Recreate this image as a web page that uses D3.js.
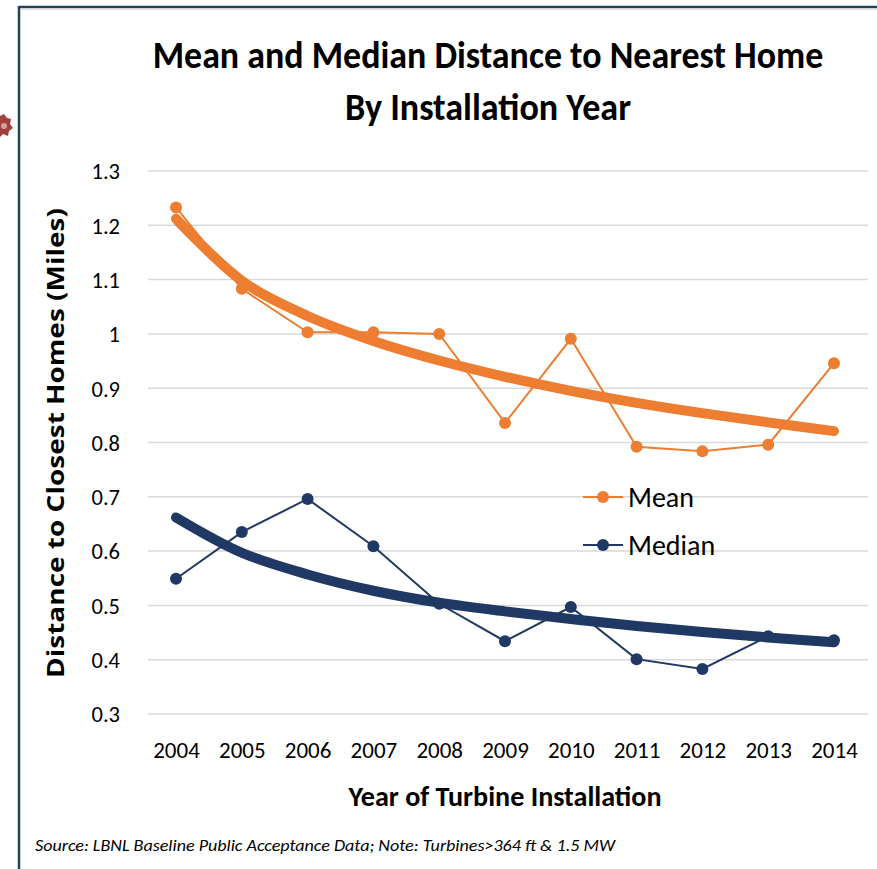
<!DOCTYPE html>
<html>
<head>
<meta charset="utf-8">
<script src="https://cdn.jsdelivr.net/npm/d3@7"></script>
<style>
  body { margin: 0; background: #fff; }
  svg { display: block; }
</style>
</head>
<body>
<svg id="chart" width="877" height="869"></svg>
<script>
// Data
const years = [2004, 2005, 2006, 2007, 2008, 2009, 2010, 2011, 2012, 2013, 2014];
const meanValues = [1.233, 1.083, 1.003, 1.003, 1.0, 0.836, 0.991, 0.792, 0.784, 0.796, 0.946];
const medianValues = [0.549, 0.635, 0.696, 0.609, 0.503, 0.434, 0.497, 0.401, 0.383, 0.443, 0.436];
const meanTrend = [1.212, 1.098, 1.033, 0.987, 0.951, 0.921, 0.895, 0.873, 0.854, 0.837, 0.821];
const medianTrend = [0.662, 0.597, 0.557, 0.527, 0.505, 0.489, 0.475, 0.462, 0.451, 0.441, 0.432];
const yTicks = [0.3, 0.4, 0.5, 0.6, 0.7, 0.8, 0.9, 1, 1.1, 1.2, 1.3];

const colors = { mean: '#ED7D31', median: '#203864' };
const font = "Carlito, 'Liberation Sans Narrow', Lato, 'Open Sans', sans-serif";

const svg = d3.select('#chart');

// Frame
svg.append('line').attr('x1', 19).attr('x2', 877).attr('y1', 7).attr('y2', 7)
    .attr('stroke', '#1d4557').attr('stroke-width', 2.5);
svg.append('line').attr('x1', 21).attr('x2', 877).attr('y1', 9.5).attr('y2', 9.5)
    .attr('stroke', '#e4e4e4').attr('stroke-width', 1.5);
svg.append('line').attr('x1', 19).attr('x2', 19).attr('y1', 6).attr('y2', 869)
    .attr('stroke', '#1d4557').attr('stroke-width', 2.5);

// clipped decoration on the far left
svg.append('path')
    .attr('d', 'M0,116 L4,114 L7,118 L11,119 L10,124 L13,128 L9,131 L8,136 L3,134 L0,137 Z')
    .attr('fill', '#a0413c');
svg.append('circle').attr('cx', 4).attr('cy', 126).attr('r', 3).attr('fill', '#d8a09a');

// Scales
const x = d3.scalePoint().domain(years).range([176, 834]);
const y = d3.scaleLinear().domain([0.3, 1.3]).range([714, 171]);

// Gridlines
svg.append('g')
    .selectAll('line')
    .data(yTicks)
    .enter().append('line')
    .attr('x1', 148).attr('x2', 868)
    .attr('y1', d => y(d)).attr('y2', d => y(d))
    .attr('stroke', '#d9d9d9').attr('stroke-width', 1.5);

// Y axis
const yAxis = svg.append('g')
    .attr('transform', 'translate(120,0)')
    .call(d3.axisLeft(y).tickValues(yTicks).tickSize(0).tickPadding(0)
        .tickFormat(d => d3.format('')(+d.toFixed(1))));
yAxis.select('.domain').remove();
yAxis.selectAll('text')
    .attr('font-family', font).attr('font-size', 22.5).attr('fill', '#000')
    .attr('dy', '0.35em');

// X axis
const xAxis = svg.append('g')
    .attr('transform', 'translate(0,738)')
    .call(d3.axisBottom(x).tickSize(0).tickPadding(0).tickFormat(d3.format('')));
xAxis.select('.domain').remove();
xAxis.selectAll('text')
    .attr('font-family', font).attr('font-size', 23).attr('fill', '#000')
    .attr('dy', '0.88em');

// Trend lines
const trendLine = d3.line()
    .x((d, i) => x(years[i]))
    .y(d => y(d))
    .curve(d3.curveCatmullRom.alpha(0.5));

svg.append('path').datum(meanTrend)
    .attr('d', trendLine)
    .attr('fill', 'none').attr('stroke', colors.mean)
    .attr('stroke-width', 10).attr('stroke-linecap', 'round');
svg.append('path').datum(medianTrend)
    .attr('d', trendLine)
    .attr('fill', 'none').attr('stroke', colors.median)
    .attr('stroke-width', 10).attr('stroke-linecap', 'round');

// Data lines
const dataLine = d3.line()
    .x((d, i) => x(years[i]))
    .y(d => y(d));

function drawSeries(values, color) {
    const g = svg.append('g');
    g.append('path').datum(values)
        .attr('d', dataLine)
        .attr('fill', 'none').attr('stroke', color).attr('stroke-width', 2);
    g.selectAll('circle')
        .data(values)
        .enter().append('circle')
        .attr('cx', (d, i) => x(years[i]))
        .attr('cy', d => y(d))
        .attr('r', 6)
        .attr('fill', color);
}
drawSeries(meanValues, colors.mean);
drawSeries(medianValues, colors.median);

// Legend
const legendItems = [
    { name: 'Mean', color: colors.mean, y: 497 },
    { name: 'Median', color: colors.median, y: 545 }
];
const legend = svg.append('g')
    .selectAll('g')
    .data(legendItems)
    .enter().append('g')
    .attr('transform', d => `translate(583,${d.y})`);
legend.append('line')
    .attr('x1', 0).attr('x2', 40)
    .attr('stroke', d => d.color).attr('stroke-width', 2);
legend.append('circle')
    .attr('cx', 20).attr('r', 6).attr('fill', d => d.color);
legend.append('text')
    .attr('x', 45).attr('dy', '0.36em')
    .attr('font-family', font).attr('font-size', 28)
    .text(d => d.name);

// Title - squeezed horizontally to match the narrow original face
const titleLines = [
    { text: 'Mean and Median Distance to Nearest Home', y: 68, w: 671 },
    { text: 'By Installation Year', y: 120, w: 286 }
];
titleLines.forEach(t => {
    const g = svg.append('g');
    const txt = g.append('text')
        .attr('text-anchor', 'middle')
        .attr('font-family', font).attr('font-weight', 'bold').attr('font-size', 39)
        .text(t.text);
    const natural = txt.node().getComputedTextLength();
    g.attr('transform', `translate(488,${t.y}) scale(${t.w / natural},1)`);
});

// Axis titles
svg.append('text')
    .attr('x', 505).attr('y', 806)
    .attr('text-anchor', 'middle')
    .attr('font-family', font).attr('font-weight', 'bold').attr('font-size', 28)
    .attr('textLength', 313).attr('lengthAdjust', 'spacingAndGlyphs')
    .text('Year of Turbine Installation');

svg.append('text')
    .attr('transform', 'translate(64,443) rotate(-90)')
    .attr('text-anchor', 'middle')
    .attr('font-family', "'Open Sans', 'DejaVu Sans', sans-serif").attr('font-weight', 'bold').attr('font-size', 24)
    .attr('textLength', 470).attr('lengthAdjust', 'spacingAndGlyphs')
    .text('Distance to Closest Homes (Miles)');

// Source note
svg.append('text')
    .attr('x', 35).attr('y', 851)
    .attr('font-family', font).attr('font-style', 'italic').attr('font-size', 16)
    .attr('textLength', 580).attr('lengthAdjust', 'spacingAndGlyphs')
    .text('Source: LBNL Baseline Public Acceptance Data; Note: Turbines>364 ft & 1.5 MW');
</script>
</body>
</html>
